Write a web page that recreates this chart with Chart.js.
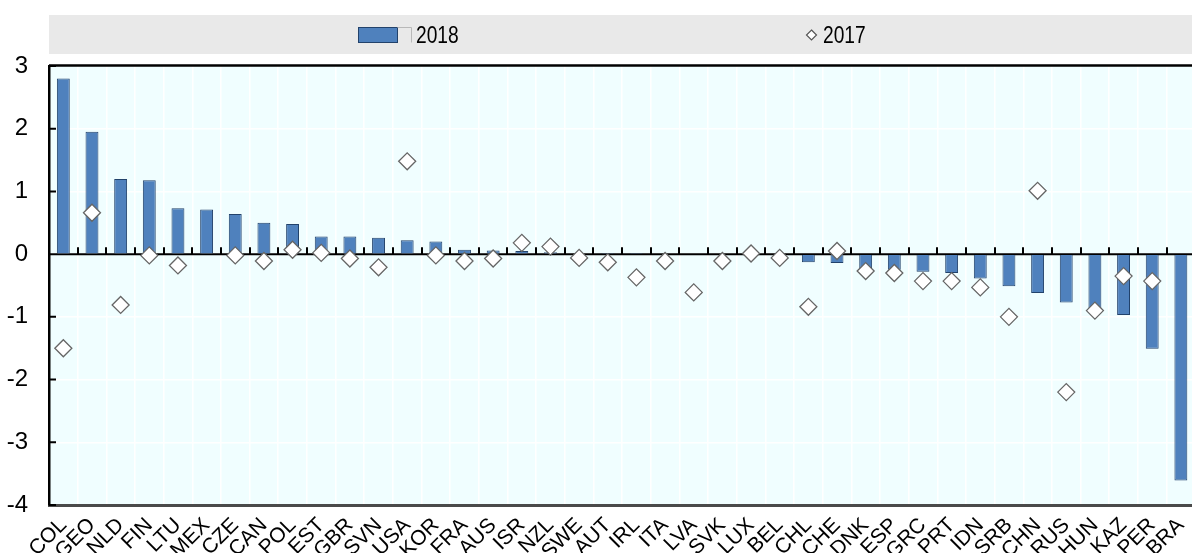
<!DOCTYPE html>
<html>
<head>
<meta charset="utf-8">
<script src="https://cdn.jsdelivr.net/npm/chart.js@4.4.1/dist/chart.umd.min.js"></script>
<style>
  html, body { margin: 0; padding: 0; background: #ffffff; overflow: hidden; }
  #wrap { position: relative; width: 1192px; height: 553px; overflow: hidden; }
  #chart { display: block; }
</style>
</head>
<body>
<div id="wrap"><canvas id="chart" width="1205" height="553" style="width:1205px;height:553px"></canvas></div>
<script>
// Countries, in the order they are plotted
const countries = ['COL', 'GEO', 'NLD', 'FIN', 'LTU', 'MEX', 'CZE', 'CAN', 'POL', 'EST',
  'GBR', 'SVN', 'USA', 'KOR', 'FRA', 'AUS', 'ISR', 'NZL', 'SWE', 'AUT',
  'IRL', 'ITA', 'LVA', 'SVK', 'LUX', 'BEL', 'CHL', 'CHE', 'DNK', 'ESP',
  'GRC', 'PRT', 'IDN', 'SRB', 'CHN', 'RUS', 'HUN', 'KAZ', 'PER', 'BRA'];

// 2018 values (bars)
const values2018 = [2.80, 1.95, 1.20, 1.18, 0.73, 0.71, 0.64, 0.50, 0.48, 0.28,
  0.28, 0.26, 0.22, 0.20, 0.07, 0.06, 0.05, 0.03, 0.01, 0.02,
  0.02, 0.01, 0.00, 0.00, 0.00, 0.00, -0.13, -0.14, -0.22, -0.25,
  -0.28, -0.30, -0.39, -0.51, -0.62, -0.77, -0.91, -0.97, -1.51, -3.61];

// 2017 values (diamonds); null where there is no observation
const values2017 = [-1.50, 0.66, -0.81, -0.02, -0.18, null, -0.02, -0.11, 0.07, 0.02,
  -0.07, -0.21, 1.48, -0.02, -0.11, -0.07, 0.18, 0.12, -0.06, -0.13,
  -0.37, -0.11, -0.61, -0.11, 0.01, -0.06, -0.84, 0.05, -0.27, -0.30,
  -0.43, -0.43, -0.53, -1.00, 1.01, -2.20, -0.90, -0.35, -0.43, null];

const yTicks = [3, 2, 1, 0, -1, -2, -3, -4];
const seriesNames = ['2018', '2017'];

const NARROW = "'Liberation Sans Narrow', 'Arial Narrow', 'Liberation Sans', Arial, sans-serif";
const BAR_FILL = '#4F81BD';
const BAR_EDGE = '#22426B';
const PLOT_BG = '#F0FEFF';

// draws a legend label horizontally condensed
function condensedText(ctx, text, x, y) {
  ctx.save();
  ctx.translate(x, y);
  ctx.scale(0.8, 1);
  ctx.fillText(text, 0, 0);
  ctx.restore();
}

// Background panel, legend band, axis frame and tick marks
const framePlugin = {
  id: 'frame',
  beforeDraw(chart) {
    const { ctx, chartArea: a } = chart;
    ctx.save();
    // legend band
    ctx.fillStyle = '#E9E9E9';
    ctx.fillRect(a.left, 15, chart.width - a.left, 39);
    // plot background
    ctx.fillStyle = PLOT_BG;
    ctx.fillRect(a.left, a.top, a.right - a.left, a.bottom - a.top);

    // legend: 2018 bar swatch
    ctx.fillStyle = BAR_FILL;
    ctx.fillRect(358.5, 27.5, 39, 15);
    ctx.strokeStyle = BAR_EDGE;
    ctx.lineWidth = 1;
    ctx.strokeRect(358.5, 27.5, 39, 15);
    ctx.strokeStyle = '#B8B8B8';
    ctx.beginPath();
    ctx.moveTo(397.5, 27.5);
    ctx.lineTo(411.5, 27.5);
    ctx.lineTo(411.5, 42.5);
    ctx.stroke();
    ctx.fillStyle = '#000000';
    ctx.font = '24px ' + NARROW;
    ctx.textBaseline = 'middle';
    ctx.textAlign = 'left';
    condensedText(ctx, seriesNames[0], 416, 36);

    // legend: 2017 diamond
    ctx.beginPath();
    ctx.moveTo(811.5, 30);
    ctx.lineTo(816.5, 35);
    ctx.lineTo(811.5, 40);
    ctx.lineTo(806.5, 35);
    ctx.closePath();
    ctx.fillStyle = '#FFFFFF';
    ctx.fill();
    ctx.strokeStyle = '#555555';
    ctx.lineWidth = 1.2;
    ctx.stroke();
    ctx.fillStyle = '#000000';
    condensedText(ctx, seriesNames[1], 823, 36);
    ctx.restore();
  },
  beforeDatasetsDraw(chart) {
    const { ctx, chartArea: a, scales } = chart;
    const y0 = scales.y.getPixelForValue(0);
    const step = (a.right - a.left) / countries.length;
    ctx.save();
    ctx.strokeStyle = '#000000';
    ctx.lineWidth = 2;
    ctx.beginPath();
    // zero line
    ctx.moveTo(a.left, y0);
    ctx.lineTo(a.right, y0);
    // category ticks above zero line
    for (let i = 1; i < countries.length; i++) {
      const x = Math.round(a.left + i * step);
      ctx.moveTo(x, y0);
      ctx.lineTo(x, y0 - 7);
    }
    // inner ticks on the value axis
    yTicks.forEach(v => {
      const y = scales.y.getPixelForValue(v);
      ctx.moveTo(a.left, y);
      ctx.lineTo(a.left + 7, y);
    });
    ctx.stroke();
    // top frame
    ctx.lineWidth = 2.5;
    ctx.beginPath();
    ctx.moveTo(a.left, a.top - 0.5);
    ctx.lineTo(a.right, a.top - 0.5);
    ctx.stroke();
    ctx.restore();
  }
};

new Chart(document.getElementById('chart'), {
  type: 'bar',
  data: {
    labels: countries,
    datasets: [
      {
        type: 'line',
        label: seriesNames[1],
        data: values2017,
        showLine: false,
        pointStyle: 'rectRot',
        pointRadius: 8.5,
        pointBackgroundColor: '#FFFFFF',
        pointBorderColor: '#666666',
        pointBorderWidth: 1.3,
        order: 0
      },
      {
        label: seriesNames[0],
        data: values2018,
        backgroundColor: BAR_FILL,
        borderColor: BAR_EDGE,
        borderWidth: 1,
        categoryPercentage: 1,
        barPercentage: 0.45,
        order: 1
      }
    ]
  },
  options: {
    responsive: false,
    animation: false,
    layout: { padding: { top: 66, left: 0, right: 0, bottom: 0 } },
    plugins: {
      legend: { display: false },
      tooltip: { enabled: false }
    },
    scales: {
      x: {
        offset: true,
        grid: { color: '#FFFFFF', lineWidth: 1.5, drawTicks: false, offset: true },
        border: { display: true, color: '#4A4A4A', width: 3 },
        ticks: {
          autoSkip: false,
          minRotation: 45,
          maxRotation: 45,
          padding: 8,
          color: '#000000',
          font: { family: NARROW, size: 21 }
        },
        afterFit(scale) {
          scale.height = 48;
          scale.paddingLeft = 0;
          scale.paddingRight = 0;
        }
      },
      y: {
        min: -4,
        max: 3,
        afterBuildTicks(scale) {
          scale.ticks = yTicks.map(v => ({ value: v }));
        },
        grid: { color: '#FFFFFF', lineWidth: 1.5, drawTicks: false },
        border: { display: true, color: '#000000', width: 2.5 },
        ticks: {
          padding: 21,
          color: '#000000',
          font: { family: NARROW, size: 24 }
        },
        afterFit(scale) {
          scale.width = 49;
        }
      }
    }
  },
  plugins: [framePlugin]
});
</script>
</body>
</html>
